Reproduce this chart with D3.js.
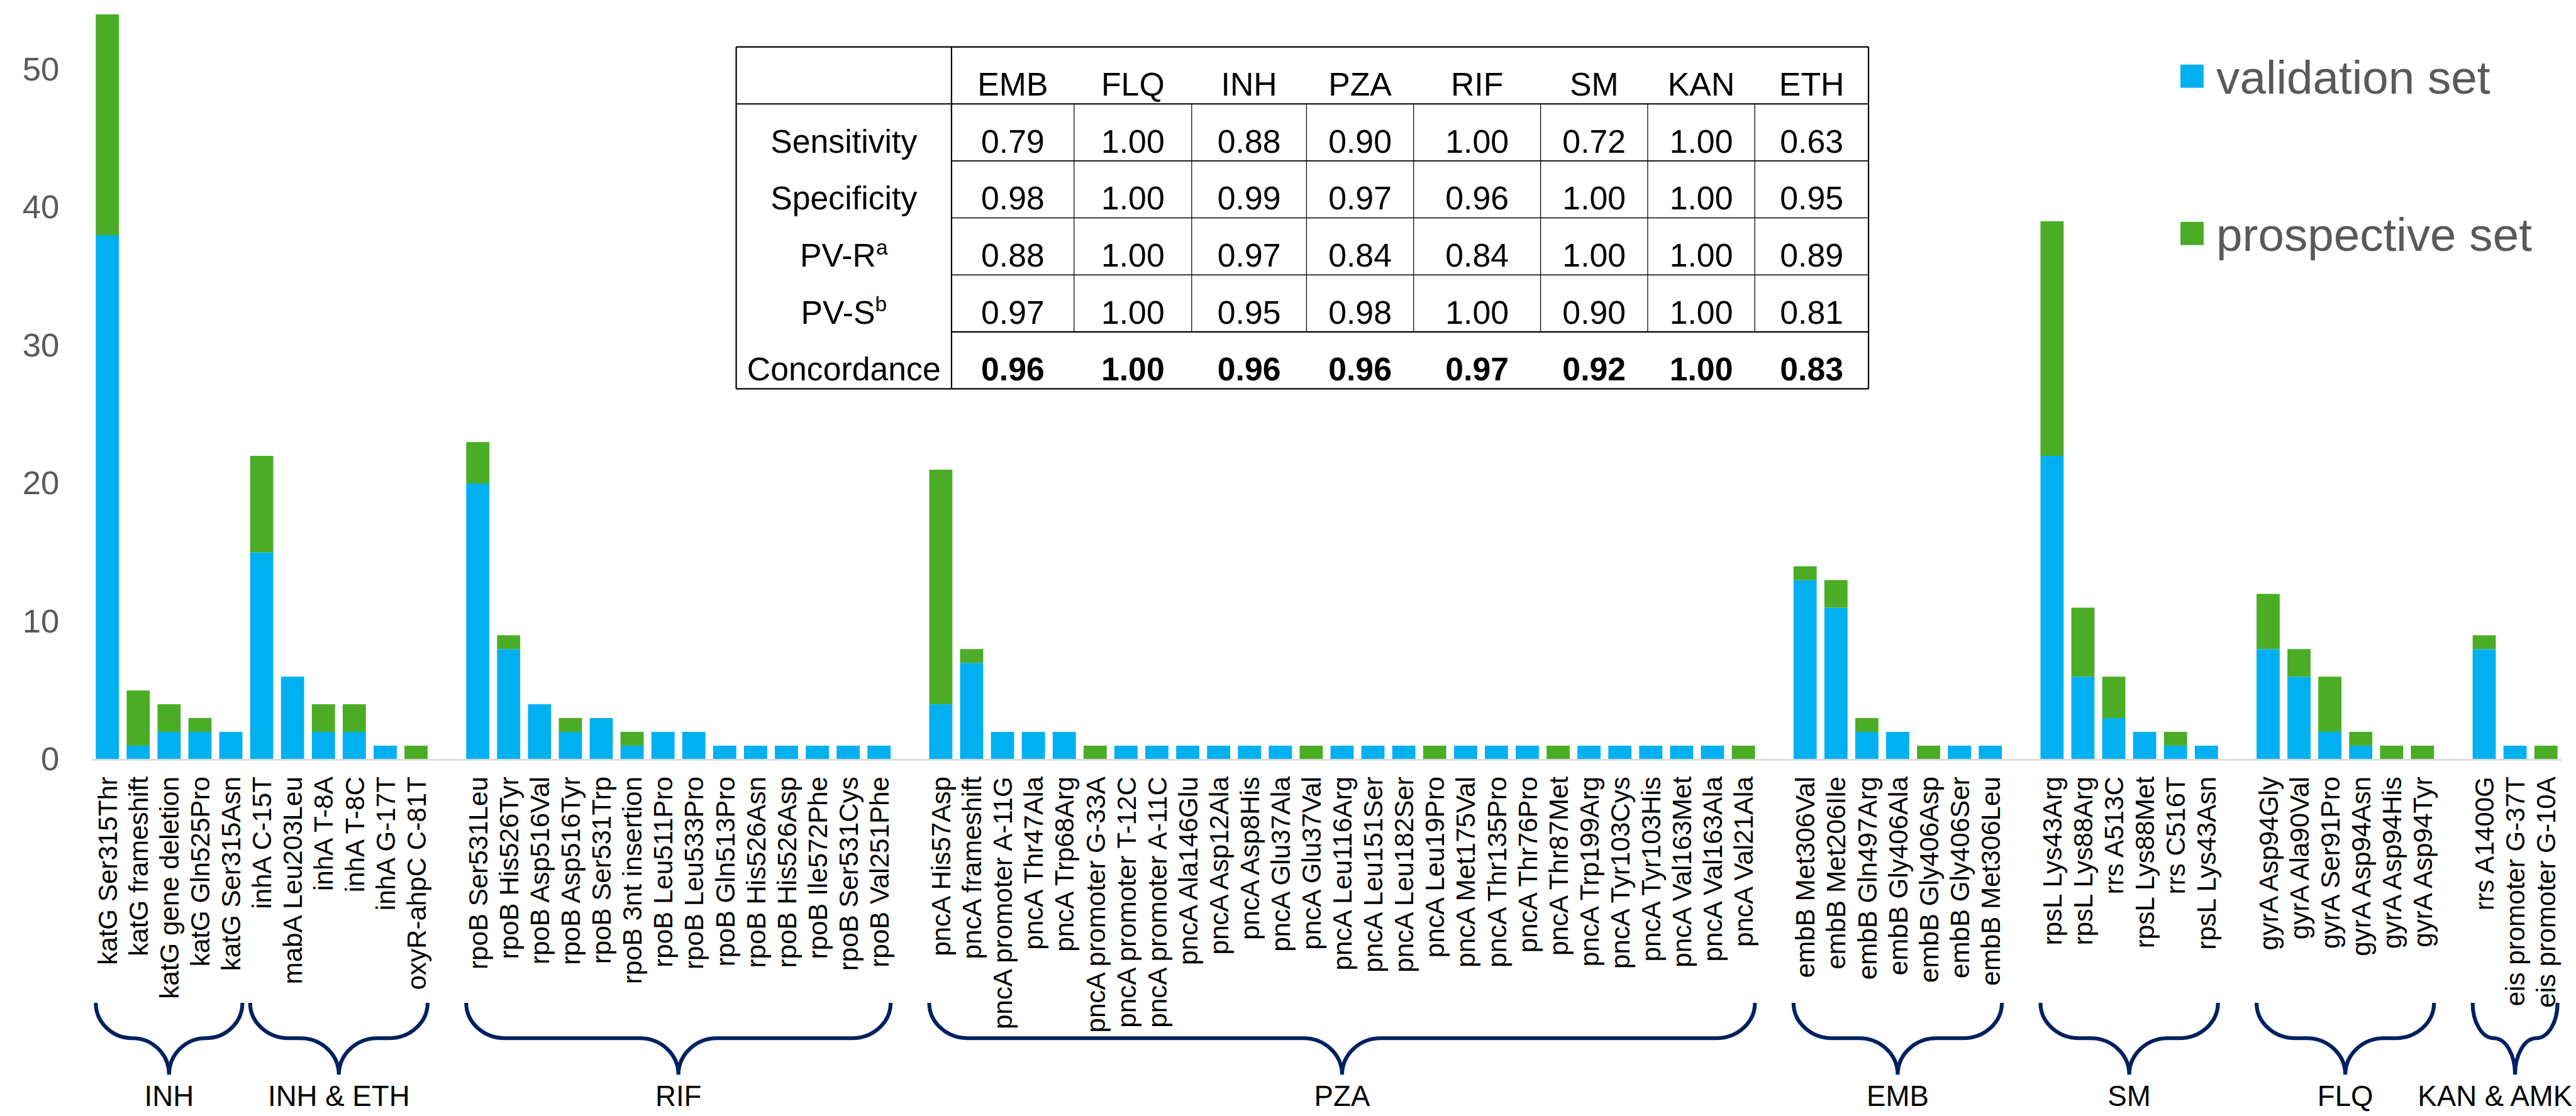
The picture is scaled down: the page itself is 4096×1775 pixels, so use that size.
<!DOCTYPE html>
<html>
<head>
<meta charset="utf-8">
<script src="https://cdn.jsdelivr.net/npm/d3@7"></script>
<style>
  body { margin: 0; background: #fff; overflow: hidden; }
  text { font-family: "Liberation Sans", Arial, sans-serif; }
</style>
</head>
<body>
<div id="wrapper"></div>
<script>
// mutations in plotting order, "" = empty slot between drug groups
const mutations = [
  "katG Ser315Thr", "katG frameshift", "katG gene deletion", "katG Gln525Pro", "katG Ser315Asn",
  "inhA C-15T", "mabA Leu203Leu", "inhA T-8A", "inhA T-8C", "inhA G-17T", "oxyR-ahpC C-81T",
  "",
  "rpoB Ser531Leu", "rpoB His526Tyr", "rpoB Asp516Val", "rpoB Asp516Tyr", "rpoB Ser531Trp",
  "rpoB 3nt insertion", "rpoB Leu511Pro", "rpoB Leu533Pro", "rpoB Gln513Pro", "rpoB His526Asn",
  "rpoB His526Asp", "rpoB Ile572Phe", "rpoB Ser531Cys", "rpoB Val251Phe",
  "",
  "pncA His57Asp", "pncA frameshift", "pncA promoter A-11G", "pncA Thr47Ala", "pncA Trp68Arg",
  "pncA promoter G-33A", "pncA promoter T-12C", "pncA promoter A-11C", "pncA Ala146Glu",
  "pncA Asp12Ala", "pncA Asp8His", "pncA Glu37Ala", "pncA Glu37Val", "pncA Leu116Arg",
  "pncA Leu151Ser", "pncA Leu182Ser", "pncA Leu19Pro", "pncA Met175Val", "pncA Thr135Pro",
  "pncA Thr76Pro", "pncA Thr87Met", "pncA Trp199Arg", "pncA Tyr103Cys", "pncA Tyr103His",
  "pncA Val163Met", "pncA Val163Ala", "pncA Val21Ala",
  "",
  "embB Met306Val", "embB Met206Ile", "embB Gln497Arg", "embB Gly406Ala", "embB Gly406Asp",
  "embB Gly406Ser", "embB Met306Leu",
  "",
  "rpsL Lys43Arg", "rpsL Lys88Arg", "rrs A513C", "rpsL Lys88Met", "rrs C516T", "rpsL Lys43Asn",
  "",
  "gyrA Asp94Gly", "gyrA Ala90Val", "gyrA Ser91Pro", "gyrA Asp94Asn", "gyrA Asp94His", "gyrA Asp94Tyr",
  "",
  "rrs A1400G", "eis promoter G-37T", "eis promoter G-10A"
]

const validationSet = [
  38, 1, 2, 2, 2, 15, 6, 2, 2, 1, 0,
  0,
  20, 8, 4, 2, 3, 1, 2, 2, 1, 1, 1, 1, 1, 1,
  0,
  4, 7, 2, 2, 2, 0, 1, 1, 1, 1, 1, 1, 0, 1, 1, 1, 0, 1, 1, 1, 0, 1, 1, 1, 1, 1, 0,
  0,
  13, 11, 2, 2, 0, 1, 1,
  0,
  22, 6, 3, 2, 1, 1,
  0,
  8, 6, 2, 1, 0, 0,
  0,
  8, 1, 0
]

const prospectiveSet = [
  16, 4, 2, 1, 0, 7, 0, 2, 2, 0, 1,
  0,
  3, 1, 0, 1, 0, 1, 0, 0, 0, 0, 0, 0, 0, 0,
  0,
  17, 1, 0, 0, 0, 1, 0, 0, 0, 0, 0, 0, 1, 0, 0, 0, 1, 0, 0, 0, 1, 0, 0, 0, 0, 0, 1,
  0,
  1, 2, 1, 0, 1, 0, 0,
  0,
  17, 5, 3, 0, 1, 0,
  0,
  4, 2, 4, 1, 1, 1,
  0,
  1, 0, 1
]

const yTicks = [0, 10, 20, 30, 40, 50]
const seriesNames = ["validation set", "prospective set"]

// drug groups marked with braces under the axis
const groupNames = ["INH", "INH & ETH", "RIF", "PZA", "EMB", "SM", "FLQ", "KAN & AMK"]
const groupFirst = ["katG Ser315Thr", "inhA C-15T", "rpoB Ser531Leu", "pncA His57Asp",
  "embB Met306Val", "rpsL Lys43Arg", "gyrA Asp94Gly", "rrs A1400G"]
const groupLast = ["katG Ser315Asn", "oxyR-ahpC C-81T", "rpoB Val251Phe", "pncA Val21Ala",
  "embB Met306Leu", "rpsL Lys43Asn", "gyrA Asp94Tyr", "eis promoter G-10A"]

// inset table
const drugs = ["EMB", "FLQ", "INH", "PZA", "RIF", "SM", "KAN", "ETH"]
const metrics = ["Sensitivity", "Specificity", "PV-R", "PV-S", "Concordance"]
const metricSup = ["", "", "a", "b", ""]
const sensitivity = ["0.79", "1.00", "0.88", "0.90", "1.00", "0.72", "1.00", "0.63"]
const specificity = ["0.98", "1.00", "0.99", "0.97", "0.96", "1.00", "1.00", "0.95"]
const pvR = ["0.88", "1.00", "0.97", "0.84", "0.84", "1.00", "1.00", "0.89"]
const pvS = ["0.97", "1.00", "0.95", "0.98", "1.00", "0.90", "1.00", "0.81"]
const concordance = ["0.96", "1.00", "0.96", "0.96", "0.97", "0.92", "1.00", "0.83"]

const colors = { validation: "#00B0F0", prospective: "#4AAD25" }

// drawing in the reference's 4665 x 2022 space, scaled down to the window by the viewBox
const W = 4665, H = 2022
const svg = d3.select("#wrapper").append("svg")
    .attr("width", 4096)
    .attr("height", 1775)
    .attr("viewBox", `0 0 ${W} ${H}`)

const axisY = 1376

const xScale = d3.scaleBand()
    .domain(d3.range(mutations.length))
    .range([166, 4639])
    .paddingInner(0.25)
    .paddingOuter(0.125)

const yScale = d3.scaleLinear()
    .domain([0, 55])
    .range([axisY, 1])

// stacked bars
const rows = mutations.map((m, i) => ({ i, validation: validationSet[i], prospective: prospectiveSet[i] }))
const stack = d3.stack().keys(["validation", "prospective"])(rows)

svg.append("g").selectAll("g")
  .data(stack)
  .join("g")
    .attr("fill", d => colors[d.key])
  .selectAll("rect")
  .data(d => d.filter(s => s[1] - s[0] > 0))
  .join("rect")
    .attr("x", d => xScale(d.data.i))
    .attr("width", xScale.bandwidth())
    .attr("y", d => yScale(d[1]))
    .attr("height", d => yScale(d[0]) - yScale(d[1]))

// y axis: labels only
const yAxis = svg.append("g")
    .attr("transform", `translate(166,0)`)
    .call(d3.axisLeft(yScale).tickValues(yTicks).tickSize(0).tickPadding(59))
yAxis.select(".domain").remove()
yAxis.selectAll("text")
    .attr("font-size", 60)
    .attr("fill", "#595959")
    .attr("font-family", "Liberation Sans, Arial, sans-serif")

// x axis with rotated mutation labels
const xAxis = svg.append("g")
    .attr("transform", `translate(0,${axisY})`)
    .call(d3.axisBottom(xScale).tickSize(0).tickSizeOuter(0).tickFormat(i => mutations[i]))
xAxis.select(".domain")
    .attr("stroke", "#d9d9d9")
    .attr("stroke-width", 3)
xAxis.selectAll("text")
    .attr("transform", "rotate(-90)")
    .attr("x", -31)
    .attr("y", 0)
    .attr("dy", "0.36em")
    .attr("text-anchor", "end")
    .attr("font-size", 48)
    .attr("fill", "#000")
    .attr("font-family", "Liberation Sans, Arial, sans-serif")

// braces
const braceTop = 1817, braceMid = 1881, braceTip = 1947
function bracePath(x0, x1) {
    const tip = (x0 + x1) / 2
    const r = Math.min(70, (x1 - x0) / 4)
    return `M${x0},${braceTop}` +
        `A${r},${braceMid - braceTop} 0 0 0 ${x0 + r},${braceMid}` +
        `H${tip - r}` +
        `A${r},${braceTip - braceMid} 0 0 1 ${tip},${braceTip}` +
        `A${r},${braceTip - braceMid} 0 0 1 ${tip + r},${braceMid}` +
        `H${x1 - r}` +
        `A${r},${braceMid - braceTop} 0 0 0 ${x1},${braceTop}`
}

const groups = groupNames.map((name, k) => ({
    name,
    x0: xScale(mutations.indexOf(groupFirst[k])),
    x1: xScale(mutations.indexOf(groupLast[k])) + xScale.bandwidth()
}))

const braces = svg.append("g")
braces.selectAll("path")
  .data(groups)
  .join("path")
    .attr("d", d => bracePath(d.x0, d.x1))
    .attr("fill", "none")
    .attr("stroke", "#002060")
    .attr("stroke-width", 7)
// the last label would run past the right edge; keep it inside
braces.selectAll("text")
  .data(groups)
  .join("text")
    .attr("x", (d, k) => k === groups.length - 1 ? W - 6 : (d.x0 + d.x1) / 2)
    .attr("y", 2004)
    .attr("text-anchor", (d, k) => k === groups.length - 1 ? "end" : "middle")
    .attr("font-size", 52)
    .attr("fill", "#000")
    .text(d => d.name)

// legend
const legend = svg.append("g")
    .selectAll("g")
    .data(seriesNames)
    .join("g")
    .attr("transform", (d, i) => `translate(3949,${117 + i * 285})`)
legend.append("rect")
    .attr("width", 42)
    .attr("height", 42)
    .attr("fill", (d, i) => i === 0 ? colors.validation : colors.prospective)
legend.append("text")
    .attr("x", 65)
    .attr("y", 53)
    .attr("font-size", 85)
    .attr("fill", "#595959")
    .text(d => d)

// table
const tableValues = [sensitivity, specificity, pvR, pvS, concordance]
const colW = [390, 222, 213, 208, 194, 230, 194, 194, 206]
const colX = [1333]
colW.forEach(w => colX.push(colX[colX.length - 1] + w))
const tTop = 85, rowH = 103.25
const rowY = d3.range(7).map(r => tTop + r * rowH)
const tLeft = colX[0], tRight = colX[colX.length - 1]

const table = svg.append("g")
table.append("rect")
    .attr("x", tLeft).attr("y", tTop)
    .attr("width", tRight - tLeft).attr("height", rowY[6] - tTop)
    .attr("fill", "#fff")

const hLines = [
    { y: rowY[0], x0: tLeft, w: 2.5 },
    { y: rowY[1], x0: tLeft, w: 2.5 },
    { y: rowY[2], x0: colX[1], w: 1.8 },
    { y: rowY[3], x0: colX[1], w: 1.8 },
    { y: rowY[4], x0: colX[1], w: 1.8 },
    { y: rowY[5], x0: colX[1], w: 2.5 },
    { y: rowY[6], x0: tLeft, w: 2.5 }
]
table.selectAll("line.h")
  .data(hLines)
  .join("line")
    .attr("class", "h")
    .attr("x1", d => d.x0).attr("x2", tRight)
    .attr("y1", d => d.y).attr("y2", d => d.y)
    .attr("stroke", "#000")
    .attr("stroke-width", d => d.w)

const vLines = colX.map((x, k) => {
    const outer = k === 0 || k === 1 || k === colX.length - 1
    return { x, y0: outer ? rowY[0] : rowY[1], y1: outer ? rowY[6] : rowY[5], w: outer ? 2.5 : 1.4 }
})
table.selectAll("line.v")
  .data(vLines)
  .join("line")
    .attr("class", "v")
    .attr("x1", d => d.x).attr("x2", d => d.x)
    .attr("y1", d => d.y0).attr("y2", d => d.y1)
    .attr("stroke", "#000")
    .attr("stroke-width", d => d.w)

const colCenter = k => (colX[k] + colX[k + 1]) / 2

// header
table.selectAll("text.head")
  .data(drugs)
  .join("text")
    .attr("class", "head")
    .attr("x", (d, k) => colCenter(k + 1))
    .attr("y", rowY[1] - 15)
    .attr("text-anchor", "middle")
    .attr("font-size", 59)
    .text(d => d)

// row labels
const rowLabels = table.selectAll("text.rowlab")
  .data(metrics)
  .join("text")
    .attr("class", "rowlab")
    .attr("x", colCenter(0))
    .attr("y", (d, r) => rowY[r + 2] - 15)
    .attr("text-anchor", "middle")
    .attr("font-size", 59)
rowLabels.append("tspan").text(d => d)
rowLabels.append("tspan")
    .attr("font-size", 38)
    .attr("dy", -22)
    .text((d, r) => metricSup[r])

// values
tableValues.forEach((vals, r) => {
    table.selectAll(`text.val${r}`)
      .data(vals)
      .join("text")
        .attr("class", `val${r}`)
        .attr("x", (d, k) => colCenter(k + 1))
        .attr("y", rowY[r + 2] - 15)
        .attr("text-anchor", "middle")
        .attr("font-size", 59)
        .attr("font-weight", r === 4 ? "bold" : "normal")
        .text(d => d)
})
</script>
</body>
</html>
